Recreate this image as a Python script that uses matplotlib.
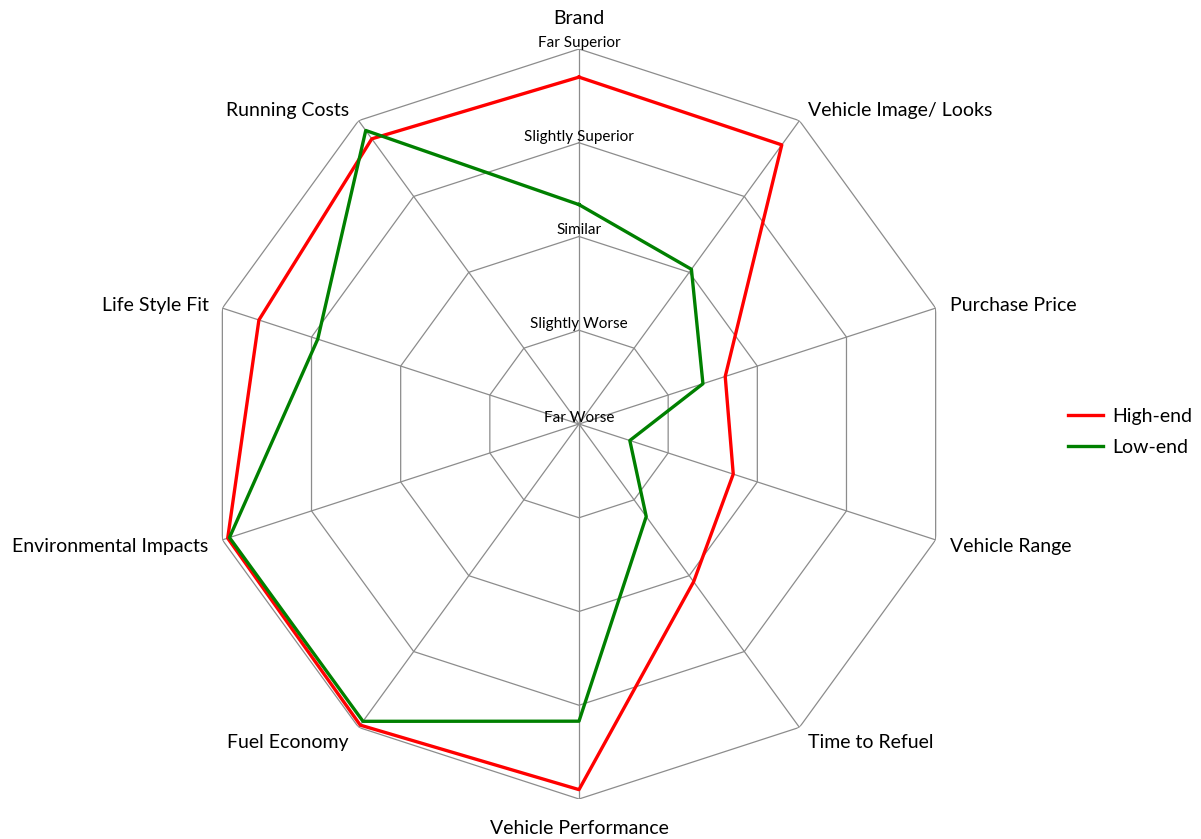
import matplotlib
matplotlib.use("Agg")
import matplotlib.pyplot as plt
import numpy as np

plt.rcParams['font.family'] = ['Lato', 'DejaVu Sans']

# categories clockwise from the top
categories = ["Brand", "Vehicle Image/ Looks", "Purchase Price", "Vehicle Range",
              "Time to Refuel", "Vehicle Performance", "Fuel Economy",
              "Environmental Impacts", "Life Style Fit", "Running Costs"]
# 0 = Far Worse ... 4 = Far Superior
high_end = [3.70, 3.68, 1.64, 1.73, 2.08, 3.90, 3.97, 3.94, 3.59, 3.76]
low_end = [2.34, 2.04, 1.39, 0.57, 1.22, 3.17, 3.92, 3.92, 2.93, 3.87]
scale_labels = ["Far Worse", "Slightly Worse", "Similar", "Slightly Superior", "Far Superior"]

n = len(categories)
theta = np.arange(n) * 2 * np.pi / n
theta_c = np.append(theta, theta[0])

fig = plt.figure(figsize=(12.01, 8.39), dpi=100)
R = 375
cx, cy = 579, 424
ax = fig.add_axes([(cx - R) / 1201, 1 - (cy + R) / 839, 2 * R / 1201, 2 * R / 839],
                  projection='polar')
ax.set_theta_zero_location('N')
ax.set_theta_direction(-1)
ax.set_ylim(0, 4)
ax.grid(False)
ax.spines['polar'].set_visible(False)
ax.set_xticks([])
ax.set_yticks([])
ax.patch.set_alpha(0)

grid_col = '#8c8c8c'
for lvl in range(1, 5):
    ax.plot(theta_c, [lvl] * (n + 1), color=grid_col, lw=0.9, zorder=1)
for t in theta:
    ax.plot([t, t], [0, 4], color=grid_col, lw=0.9, zorder=1)

ax.plot(theta_c, high_end + high_end[:1], color='#ff0000', lw=2.4, label='High-end', zorder=3)
ax.plot(theta_c, low_end + low_end[:1], color='#008000', lw=2.4, label='Low-end', zorder=4)

# category labels
offsets = [(0, 22, 'center'), (6, 7.5, 'left'), (10, 2, 'left'), (10, -5, 'left'),
           (6, -11, 'left'), (0, -21, 'center'), (-7, -11, 'right'), (-10, -5, 'right'),
           (-10, 2, 'right'), (-7, 7.5, 'right')]
for t, lab, (dx, dy, ha) in zip(theta, categories, offsets):
    ax.annotate(lab, xy=(t, 4), xytext=(dx, dy), textcoords='offset points',
                ha=ha, va='center', fontsize=14, color='#000000')

# scale labels along the top spoke
for lvl, lab in enumerate(scale_labels):
    ax.annotate(lab, xy=(0, lvl), xytext=(0, 4.5), textcoords='offset points',
                ha='center', va='center', fontsize=11, color='#000000', zorder=5)

fig.legend(loc='center left', bbox_to_anchor=(1050 / 1201, 1 - 432 / 839), frameon=False,
           fontsize=14, handlelength=1.8, handletextpad=0.5, labelspacing=0.72)

fig.savefig('out.png', dpi=100)
